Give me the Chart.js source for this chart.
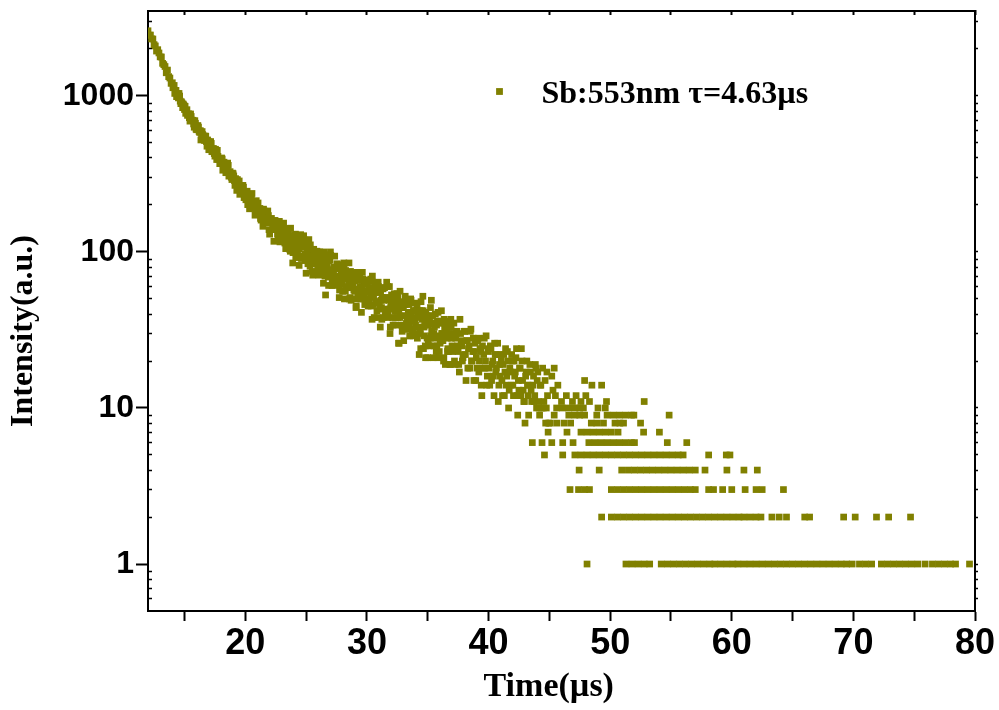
<!DOCTYPE html>
<html>
<head>
<meta charset="utf-8">
<script src="https://cdn.jsdelivr.net/npm/chart.js@4.4.0/dist/chart.umd.min.js"></script>
<style>
html,body{margin:0;padding:0;background:#ffffff;}
canvas{display:block;}
</style>
</head>
<body>
<canvas id="chart" width="999" height="710"></canvas>
<script>
// ---------------- data ----------------
const legendLabel = 'Sb:553nm \u03C4=4.63\u00B5s';
const xTitle = 'Time(\u00B5s)';
const yTitle = 'Intensity(a.u.)';

// x axis ticks (µs)
const xTickValues = [15, 20, 25, 30, 35, 40, 45, 50, 55, 60, 65, 70, 75, 80];
const xLabelValues = [20, 30, 40, 50, 60, 70, 80];
// y axis ticks (log)
const yMajorTicks = [1, 10, 100, 1000];
const yMinorTicks = [0.6, 0.7, 0.8, 0.9, 2, 3, 4, 5, 6, 7, 8, 9, 20, 30, 40, 50, 60, 70, 80, 90,
                     200, 300, 400, 500, 600, 700, 800, 900, 2000, 3000];

// decay part 1: time (µs) / intensity
const decayATime = [12.0,12.1,12.2,12.3,12.4,12.5,12.6,12.7,12.8,12.9,
 13.0,13.1,13.2,13.3,13.4,13.5,13.6,13.7,13.8,13.9,
 14.0,14.1,14.2,14.3,14.4,14.5,14.6,14.7,14.8,14.9,
 15.0,15.1,15.2,15.3,15.4,15.5,15.6,15.7,15.8,15.9,
 16.0,16.1,16.2,16.3,16.4,16.5,16.6,16.7,16.8,16.9,
 17.0,17.1,17.2,17.3,17.4,17.5,17.6,17.7,17.8,17.9,
 18.0,18.1,18.2,18.3,18.4,18.5,18.6,18.7,18.8,18.9,
 19.0,19.1,19.2,19.3,19.4,19.5,19.6,19.7,19.8,19.9,
 20.0,20.1,20.2,20.3,20.4,20.5,20.6,20.7,20.8,20.9,
 21.0,21.1,21.2,21.3,21.4,21.5,21.6,21.7,21.8,21.9,
 22.0,22.1,22.2,22.3,22.4,22.5,22.6,22.7,22.8,22.9];
const decayACounts = [2615,2451,2455,2319,2316,2131,2091,1938,1978,1885,
 1779,1776,1617,1586,1543,1407,1464,1329,1302,1203,
 1214,1136,1037,1085,1031,971,998,892,899,886,
 818,773,816,764,725,766,699,698,630,668,
 607,646,592,599,534,565,523,553,510,522,
 452,485,496,441,458,411,425,448,392,368,
 390,394,352,354,322,353,359,309,317,291,
 317,287,295,248,278,285,254,241,267,223,
 235,241,201,227,211,224,192,203,172,213,
 186,176,190,160,180,188,155,165,156,171,
 130,160,154,139,159,141,152,125,157,127];

// decay part 2
const decayBTime = [23.0,23.1,23.2,23.3,23.4,23.5,23.6,23.7,23.8,23.9,
 24.0,24.1,24.2,24.3,24.4,24.5,24.6,24.7,24.8,24.9,
 25.0,25.1,25.2,25.3,25.4,25.5,25.6,25.7,25.8,25.9,
 26.0,26.1,26.2,26.3,26.4,26.5,26.6,26.7,26.8,26.9,
 27.0,27.1,27.2,27.3,27.4,27.5,27.6,27.7,27.8,27.9,
 28.0,28.1,28.2,28.3,28.4,28.5,28.6,28.7,28.8,28.9,
 29.0,29.1,29.2,29.3,29.4,29.5,29.6,29.7,29.8,29.9,
 30.0,30.1,30.2,30.3,30.4,30.5,30.6,30.7,30.8,30.9,
 31.0,31.1,31.2,31.3,31.4,31.5,31.6,31.7,31.8,31.9,
 32.0,32.1,32.2,32.3,32.4,32.5,32.6,32.7,32.8,32.9,
 33.0,33.1,33.2,33.3,33.4,33.5,33.6,33.7,33.8,33.9];
const decayBCounts = [135,118,137,124,141,115,122,101,127,85,
 118,107,123,100,108,112,91,122,127,97,
 73,103,89,105,93,75,98,92,84,101,
 78,89,93,80,72,91,53,79,72,88,
 100,71,72,78,61,79,63,81,67,74,
 56,85,70,59,74,63,71,49,65,73,
 56,44,68,57,73,50,60,51,64,56,
 66,45,58,53,65,46,38,55,59,47,
 56,33,44,59,49,39,51,60,43,30,
 46,38,52,42,48,54,26,38,47,31,
 44,39,48,32,41,35,50,38,29,42];

// decay part 3
const decayCTime = [34.0,34.1,34.2,34.3,34.4,34.5,34.6,34.7,34.8,34.9,
 35.0,35.1,35.2,35.3,35.4,35.5,35.6,35.7,35.8,35.9,
 36.0,36.1,36.2,36.3,36.4,36.5,36.6,36.7,36.8,36.9,
 37.0,37.1,37.2,37.3,37.4,37.5,37.6,37.7,37.8,37.9,
 38.0,38.1,38.2,38.3,38.4,38.5,38.6,38.7,38.8,38.9,
 39.0,39.1,39.2,39.3,39.4,39.5,39.6,39.7,39.8,39.9,
 40.0,40.1,40.2,40.3,40.4,40.5,40.6,40.7,40.8,40.9,
 41.0,41.1,41.2,41.3,41.4,41.5,41.6,41.7,41.8,41.9,
 42.0,42.1,42.2,42.3,42.4,42.5,42.6,42.7,42.8,42.9,
 43.0,43.1,43.2,43.3,43.4,43.5,43.6,43.7,43.8,43.9,
 44.0,44.1,44.2,44.3,44.4,44.5,44.6,44.7,44.8,44.9];
const decayCCounts = [34,42,39,22,30,42,52,33,25,37,
 21,35,28,49,39,30,35,23,36,29,
 36,27,30,20,33,36,28,23,30,37,
 25,30,20,28,31,23,17,30,25,21,
 31,22,27,18,25,31,20,23,15,26,
 21,27,17,24,14,25,22,18,29,16,
 23,14,24,19,16,26,17,22,11,19,
 22,15,19,12,24,16,20,13,17,22,
 14,20,17,24,9,13,18,24,15,11,
 8,17,14,9,19,13,6,16,12,18,
 15,11,9,14,6,10,5,8,17,7];

// in-between channels
const decayDTime = [20.05,20.15,20.25,20.35,20.45,20.55,20.65,20.75,20.85,20.95,
 21.05,21.15,21.25,21.35,21.45,21.55,21.65,21.75,21.85,21.95,
 22.05,22.15,22.25,22.35,22.45,22.55,22.65,22.75,22.85,22.95,
 23.05,23.15,23.25,23.35,23.45,23.55,23.65,23.75,23.85,23.95,
 24.05,24.15,24.25,24.35,24.45,24.55,24.65,24.75,24.85,24.95,
 25.05,25.15,25.25,25.35,25.45,25.55,25.65,25.75,25.85,25.95,
 26.05,26.15,26.25,26.35,26.45,26.55,26.65,26.75,26.85,26.95,
 27.05,27.15,27.25,27.35,27.45,27.55,27.65,27.75,27.85,27.95,
 28.05,28.15,28.25,28.35,28.45,28.55,28.65,28.75,28.85,28.95,
 29.05,29.15,29.25,29.35,29.45,29.55,29.65,29.75,29.85,29.95];
const decayDCounts = [216,245,221,189,220,237,194,201,175,201,
 206,178,164,182,146,183,166,154,183,139,
 160,164,145,117,159,145,130,155,116,142,
 130,153,114,133,117,141,104,122,117,105,
 128,92,121,113,105,129,91,108,94,111,
 108,84,95,111,87,71,95,87,101,79,
 71,87,94,78,100,70,80,85,61,89,
 72,66,77,94,62,70,78,57,83,62,
 69,50,76,60,69,50,75,60,62,69,
 50,74,52,56,60,41,67,53,62,48];

const decayETime = [30.05,30.15,30.25,30.35,30.45,30.55,30.65,30.75,30.85,30.95,
 31.05,31.15,31.25,31.35,31.45,31.55,31.65,31.75,31.85,31.95,
 32.05,32.15,32.25,32.35,32.45,32.55,32.65,32.75,32.85,32.95,
 33.05,33.15,33.25,33.35,33.45,33.55,33.65,33.75,33.85,33.95,
 34.05,34.15,34.25,34.35,34.45,34.55,34.65,34.75,34.85,34.95,
 35.05,35.15,35.25,35.35,35.45,35.55,35.65,35.75,35.85,35.95,
 36.05,36.15,36.25,36.35,36.45,36.55,36.65,36.75,36.85,36.95,
 37.05,37.15,37.25,37.35,37.45,37.55,37.65,37.75,37.85,37.95,
 38.05,38.15,38.25,38.35,38.45,38.55,38.65,38.75,38.85,38.95,
 39.05,39.15,39.25,39.35,39.45,39.55,39.65,39.75,39.85,39.95,
 40.05,40.15,40.25,40.35,40.45,40.55,40.65,40.75,40.85,40.95,
 41.05,41.15,41.25,41.35,41.45,41.55,41.65,41.75,41.85,41.95,
 42.05,42.15,42.25,42.35,42.45,42.55,42.65,42.75,42.85,42.95,
 43.05,43.15,43.25,43.35,43.45,43.55,43.65,43.75,43.85,43.95,
 44.05,44.15,44.25,44.35,44.45,44.55,44.65,44.75,44.85,44.95];
const decayECounts = [64,50,59,45,70,51,55,59,38,60,
 43,49,51,38,59,43,51,38,60,44,
 50,34,54,38,44,51,26,39,48,44,
 32,52,35,39,46,29,41,31,36,47,
 42,28,38,32,48,39,24,34,41,28,
 26,36,29,39,21,33,28,25,41,23,
 35,30,27,37,19,31,24,34,19,28,
 23,35,19,30,25,19,37,27,20,22,
 31,15,27,24,18,32,20,28,23,15,
 18,28,20,23,12,18,28,20,14,24,
 18,25,15,20,12,22,18,26,14,16,
 20,12,22,17,14,23,10,18,14,20,
 12,16,21,12,15,18,12,20,13,11,
 16,20,12,14,17,11,14,11,19,10,
 17,10,14,10,18,11,15,10,12,8];

const decayFTime = [14.05,14.15,14.25,14.35,14.45,14.55,14.65,14.75,14.85,14.95,
 15.05,15.15,15.25,15.35,15.45,15.55,15.65,15.75,15.85,15.95,
 16.05,16.15,16.25,16.35,16.45,16.55,16.65,16.75,16.85,16.95,
 17.05,17.15,17.25,17.35,17.45,17.55,17.65,17.75,17.85,17.95,
 18.05,18.15,18.25,18.35,18.45,18.55,18.65,18.75,18.85,18.95,
 19.05,19.15,19.25,19.35,19.45,19.55,19.65,19.75,19.85,19.95];
const decayFCounts = [1128,1167,1085,989,1029,1037,925,916,841,869,
 858,790,750,767,689,738,694,661,694,612,
 633,631,583,522,591,554,518,551,476,512,
 482,510,439,460,427,455,391,410,395,371,
 400,334,376,358,338,371,306,327,301,320,
 307,267,284,291,260,234,266,247,260,226];

const decayGTime = [23.025,23.125,23.225,23.325,23.425,23.525,23.625,23.725,23.825,23.925,
 24.025,24.125,24.225,24.325,24.425,24.525,24.625,24.725,24.825,24.925,
 25.025,25.125,25.225,25.325,25.425,25.525,25.625,25.725,25.825,25.925,
 26.025,26.125,26.225,26.325,26.425,26.525,26.625,26.725,26.825,26.925,
 27.025,27.125,27.225,27.325,27.425,27.525,27.625,27.725,27.825,27.925,
 28.025,28.125,28.225,28.325,28.425,28.525,28.625,28.725,28.825,28.925,
 29.025,29.125,29.225,29.325,29.425,29.525,29.625,29.725,29.825,29.925,
 30.025,30.125,30.225,30.325,30.425,30.525,30.625,30.725,30.825,30.925,
 31.025,31.125,31.225,31.325,31.425,31.525,31.625,31.725,31.825,31.925,
 32.025,32.125,32.225,32.325,32.425,32.525,32.625,32.725,32.825,32.925,
 33.025,33.125,33.225,33.325,33.425,33.525,33.625,33.725,33.825,33.925,
 34.025,34.125,34.225,34.325,34.425,34.525,34.625,34.725,34.825,34.925,
 35.025,35.125,35.225,35.325,35.425,35.525,35.625,35.725,35.825,35.925,
 36.025,36.125,36.225,36.325,36.425,36.525,36.625,36.725,36.825,36.925];
const decayGCounts = [148,124,139,105,127,136,109,142,116,99,
 121,130,103,109,82,117,109,94,120,88,
 107,94,120,81,95,87,104,73,94,97,
 76,100,82,89,63,92,80,96,69,74,
 95,61,77,80,65,84,67,51,78,72,
 67,82,56,71,59,85,51,64,72,57,
 65,45,72,58,66,50,74,55,46,62,
 66,49,55,67,37,57,60,48,42,64,
 48,55,37,58,50,40,64,41,49,33,
 53,44,48,34,53,38,42,56,34,44,
 27,46,49,37,41,29,49,32,42,37,
 30,46,33,42,24,37,42,29,21,39,
 34,25,44,31,35,25,40,34,21,35,
 26,42,29,21,33,35,23,29,19,33];

// low-count tail (t >= 45 µs): times at which each integer count appears
const tailCount18 = [45.4];
const tailCount16 = [45.2];
const tailCount15 = [47.9];
const tailCount14 = [45.7, 48.5, 49.3];
const tailCount13 = [45.3];
const tailCount12 = [45.5, 46.4, 47.2, 48.0];
const tailCount11 = [46.0, 46.9, 47.6, 48.3, 49.7, 52.8];
const tailCount10 = [45.6, 46.1, 46.6, 47.1, 47.5, 47.8, 49.0, 49.6];
const tailCount9 = [45.4, 46.6, 47.1, 47.5, 47.9, 48.9, 49.75, 50.25, 50.75, 51.25, 51.75, 51.95, 54.85];
const tailCount8 = [45.05, 45.6, 46.2, 46.75, 48.45, 48.9, 49.45, 50.4, 50.8, 51.1, 52.5];
const tailCount7 = [46.45, 47.6, 48.1, 48.6, 49.1, 49.6, 50.1, 50.65, 52.75, 54.05];
const tailCount6 = [45.2, 46.1, 46.95, 48.25, 48.75, 49.25, 49.75, 50.25, 50.75, 51.25, 51.75, 52.0, 54.7, 56.3];
const tailCount5 = [46.1, 47.1, 47.6, 48.1, 48.6, 49.1, 49.6, 50.1, 50.6, 51.1, 51.6, 52.1, 52.6, 53.1,
                    53.6, 54.1, 54.6, 55.1, 55.6, 56.0, 58.1, 59.55, 59.85];
const tailCount4 = [47.45, 49.1, 50.95, 51.5, 52.0, 52.5, 53.0, 53.5, 54.0, 54.5, 55.0, 55.5, 56.0, 56.5,
                    57.0, 57.8, 59.6, 61.0, 62.1];
const tailCount3 = [46.7, 47.4, 47.9, 48.3, 50.1, 50.6, 51.1, 51.6, 52.1, 52.6, 53.1, 53.6, 54.1, 54.6,
                    55.1, 55.6, 56.1, 56.6, 57.0, 58.1, 58.5, 59.25, 60.0, 61.1, 62.0, 62.5, 64.25];
const tailCount2 = [49.3, 50.1, 50.6, 51.1, 51.6, 52.1, 52.6, 53.1, 53.6, 54.1, 54.6, 55.1, 55.6, 56.1,
                    56.6, 57.1, 57.6, 58.1, 58.6, 59.1, 59.6, 60.1, 60.6, 61.0, 61.5, 62.0, 62.4, 63.3,
                    63.9, 64.5, 66.0, 66.4, 69.2, 70.15, 71.9, 72.9, 74.7];
const tailCount1 = [48.1, 51.3, 51.8, 52.3, 52.8, 53.25, 54.2, 54.7, 55.2, 55.7, 56.2, 56.7, 57.2, 57.7,
                    58.2, 58.6, 59.1, 59.6, 60.1, 60.5, 61.0, 61.5, 62.0, 62.5, 63.0, 63.5, 64.0, 64.5,
                    65.0, 65.5, 66.0, 66.5, 67.0, 67.5, 68.0, 68.5, 69.0, 69.45, 69.9, 70.5, 71.0, 71.5,
                    72.3, 72.8, 73.3, 73.8, 74.3, 74.8, 75.3, 75.9, 76.5, 77.0, 77.5, 78.0, 78.4, 79.55];

const tailRows = [
  [18, tailCount18], [16, tailCount16], [15, tailCount15], [14, tailCount14], [13, tailCount13],
  [12, tailCount12], [11, tailCount11], [10, tailCount10], [9, tailCount9], [8, tailCount8],
  [7, tailCount7], [6, tailCount6], [5, tailCount5], [4, tailCount4], [3, tailCount3],
  [2, tailCount2], [1, tailCount1]
];

// ---------------- build points ----------------
const points = [];
function addSeries(times, counts) {
  times.forEach((t, i) => points.push({ x: t, y: counts[i] }));
}
addSeries(decayATime, decayACounts);
addSeries(decayFTime, decayFCounts);
addSeries(decayBTime, decayBCounts);
addSeries(decayGTime, decayGCounts);
addSeries(decayCTime, decayCCounts);
addSeries(decayDTime, decayDCounts);
addSeries(decayETime, decayECounts);
tailRows.forEach(([level, times]) => times.forEach(t => points.push({ x: t, y: level })));

// ---------------- styles ----------------
const markerColor = '#808000';
const black = '#000000';
const serif = '"Liberation Serif", "Times New Roman", serif';
const sans = '"Liberation Sans", Arial, sans-serif';

const legendPlugin = {
  id: 'sampleLegend',
  afterDatasetsDraw(chart) {
    const { ctx, chartArea } = chart;
    const ds = chart.data.datasets[0];
    ctx.save();
    const mx = chartArea.left + 351.5;
    const my = chartArea.top + 80.5;
    ctx.fillStyle = ds.pointBackgroundColor;
    ctx.fillRect(mx - 3.4, my - 3.4, 6.8, 6.8);
    ctx.fillStyle = black;
    ctx.font = 'bold 32px ' + serif;
    ctx.textBaseline = 'alphabetic';
    ctx.textAlign = 'left';
    ctx.fillText(ds.label, chartArea.left + 393.5, chartArea.top + 91.5);
    ctx.restore();
  }
};

const setTicks = (values) => (scale) => { scale.ticks = values.map(v => ({ value: v })); };

new Chart(document.getElementById('chart'), {
  type: 'scatter',
  data: {
    datasets: [{
      label: legendLabel,
      data: points,
      pointStyle: 'rect',
      pointRadius: 4.75,
      pointHoverRadius: 4.75,
      pointBackgroundColor: markerColor,
      pointBorderWidth: 0,
      showLine: false,
      clip: 0
    }]
  },
  options: {
    responsive: false,
    animation: false,
    devicePixelRatio: 1,
    events: [],
    layout: { padding: { left: 0, right: 24, top: 11, bottom: 0 } },
    plugins: { legend: { display: false }, tooltip: { enabled: false } },
    scales: {
      x: {
        type: 'linear', position: 'bottom', min: 12, max: 80,
        afterBuildTicks: setTicks(xTickValues),
        afterFit: (s) => { s.height = 99; s.paddingLeft = 0; s.paddingRight = 0; },
        ticks: {
          autoSkip: false, maxRotation: 0, padding: 1, color: black,
          font: { family: sans, size: 36, weight: 'bold' },
          callback: (v) => (xLabelValues.includes(v) ? String(v) : '')
        },
        grid: { drawOnChartArea: false, drawTicks: true, tickLength: 10, tickWidth: 2, color: black, tickColor: black },
        border: { display: true, color: black, width: 2 },
        title: { display: true, text: xTitle + '   ', color: black, font: { family: serif, size: 34, weight: 'bold', lineHeight: 1.2 }, padding: { top: 0, bottom: 2 } }
      },
      xTop: {
        type: 'linear', position: 'top', min: 12, max: 80,
        afterBuildTicks: setTicks(xTickValues),
        afterFit: (s) => { s.height = 0; s.paddingLeft = 0; s.paddingRight = 0; },
        ticks: { display: false },
        grid: { drawOnChartArea: false, drawTicks: true, tickLength: -4, tickWidth: 2, color: black, tickColor: black },
        border: { display: true, color: black, width: 2 }
      },
      y: {
        type: 'logarithmic', position: 'left', min: 0.5, max: 3500, weight: 1,
        afterBuildTicks: setTicks(yMajorTicks),
        afterFit: (s) => { s.width = 148; s.paddingTop = 0; s.paddingBottom = 0; },
        ticks: {
          autoSkip: false, padding: 2, color: black,
          font: { family: sans, size: 32, weight: 'bold' },
          callback: (v) => String(v)
        },
        grid: { drawOnChartArea: false, drawTicks: true, tickLength: 12, tickWidth: 2, color: black, tickColor: black },
        border: { display: true, color: black, width: 2 },
        title: { display: true, text: yTitle + '     ', color: black, font: { family: serif, size: 32, weight: 'bold', lineHeight: 1.2 }, padding: { top: 5, bottom: 0 } }
      },
      yInner: {
        type: 'logarithmic', position: 'left', min: 0.5, max: 3500, weight: 0,
        afterBuildTicks: setTicks(yMinorTicks),
        afterFit: (s) => { s.width = 0; s.paddingTop = 0; s.paddingBottom = 0; },
        ticks: { display: false, autoSkip: false },
        grid: { drawOnChartArea: false, drawTicks: true, tickLength: -4, tickWidth: 1.5, color: black, tickColor: black },
        border: { display: false }
      },
      yRight: {
        type: 'logarithmic', position: 'right', min: 0.5, max: 3500,
        afterBuildTicks: setTicks(yMinorTicks.concat(yMajorTicks)),
        afterFit: (s) => { s.width = 0; s.paddingTop = 0; s.paddingBottom = 0; },
        ticks: { display: false, autoSkip: false },
        grid: { drawOnChartArea: false, drawTicks: true, tickLength: 3, tickWidth: 1.5, color: black, tickColor: black },
        border: { display: true, color: black, width: 2 }
      }
    }
  },
  plugins: [legendPlugin]
});
</script>
</body>
</html>
